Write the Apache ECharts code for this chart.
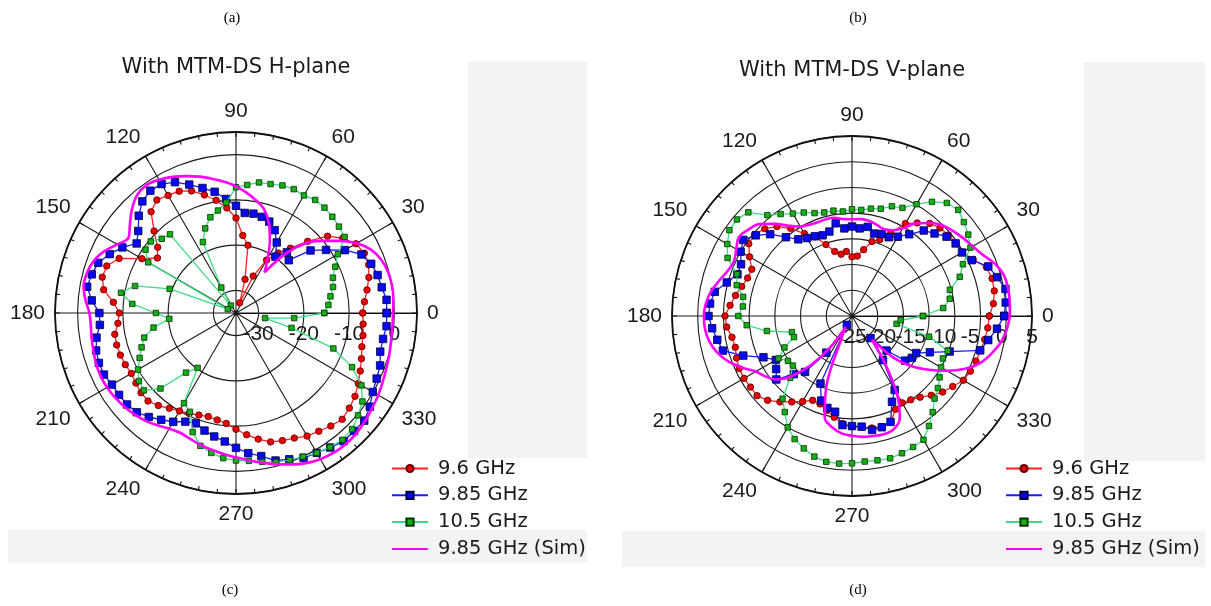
<!DOCTYPE html>
<html><head><meta charset="utf-8">
<script src="https://cdn.jsdelivr.net/npm/echarts@6/dist/echarts.min.js"></script>
<style>html,body{margin:0;padding:0;background:#fff;}#c{width:1211px;height:606px;}</style>
</head><body><div id="c"></div>
<script>
const ANGLES = [0,5,10,15,20,25,30,35,40,45,50,55,60,65,70,75,80,85,90,95,100,105,110,115,120,125,130,135,140,145,150,155,160,165,170,175,180,185,190,195,200,205,210,215,220,225,230,235,240,245,250,255,260,265,270,275,280,285,290,295,300,305,310,315,320,325,330,335,340,345,350,355];
const SERIES_NAMES = ['9.6 GHz','9.85 GHz','10.5 GHz','9.85 GHz (Sim)'];
const PLOT_TITLES = ['With MTM-DS H-plane','With MTM-DS V-plane'];
const PANEL_LABELS = ['(a)','(b)','(c)','(d)'];
const H_RADIAL_LABELS = [-30,-20,-10,0];
const V_RADIAL_LABELS = [-25,-20,-15,-10,-5,0,5];

// H-plane (left)
const H_RED = [-7.0,-6.5,-5.6,-4.6,-3.8,-3.7,-4.4,-6.2,-8.6,-12.6,-16.3,-18.8,-21.5,-26.0,-32.6,-27.3,-19.8,-17.8,-14.0,-11.7,-9.7,-8.0,-6.3,-5.3,-5.0,-4.5,-5.8,-9.4,-12.4,-13.8,-11.0,-6.5,-4.6,-4.4,-5.3,-7.8,-9.2,-8.8,-7.8,-7.7,-7.8,-8.0,-8.3,-8.0,-7.6,-7.5,-8.3,-9.3,-10.0,-10.5,-11.0,-11.3,-11.0,-10.5,-9.3,-8.0,-6.7,-5.5,-5.0,-4.5,-3.6,-3.1,-2.4,-1.8,-2.3,-2.9,-3.8,-4.7,-5.5,-6.2,-6.5,-6.8];
const H_BLUE = [-1.7,-1.6,-2.3,-2.6,-3.2,-4.4,-7.2,-10.7,-13.5,-18.5,-17.5,-19.8,-17.0,-14.8,-13.5,-13.0,-12.7,-12.8,-11.3,-9.7,-7.8,-6.4,-4.8,-3.1,-2.1,-2.0,-2.8,-4.6,-6.8,-8.2,-6.0,-4.2,-2.6,-2.0,-1.6,-3.0,-4.8,-4.8,-3.7,-3.0,-2.75,-2.8,-3.35,-3.45,-3.55,-4.0,-5.0,-6.2,-7.25,-8.5,-9.05,-8.1,-7.3,-6.5,-5.2,-3.9,-2.9,-1.25,-0.6,0.34,0.7,1.3,2.0,1.9,2.0,1.1,-0.1,-0.7,-1.1,-2.0,-2.0,-1.6];
const H_GREEN = [-15.5,-14.5,-13.8,-12.8,-12.2,-10.8,-9.0,-5.7,-5.3,-4.9,-4.6,-4.5,-5.0,-4.8,-5.0,-5.5,-5.7,-6.6,-7.2,-10.5,-12.0,-13.1,-15.1,-17.7,-28.5,-33.0,-12.3,-11.8,-10.4,-10.6,-12.6,-33.0,-19.4,-11.9,-9.2,-12.0,-17.3,-20.2,-16.5,-14.0,-12.8,-11.5,-10.0,-8.8,-8.4,-11.4,-17.8,-20.2,-12.0,-10.9,-7.0,-4.6,-3.6,-2.8,-2.4,-2.2,-1.6,-0.9,-0.4,0.0,0.7,1.2,1.6,1.3,0.2,-0.9,-3.0,-6.7,-12.1,-22.3,-28.5,-22.1];
const H_SIM = [-0.3,-0.1,0.0,-0.2,-0.8,-2.0,-4.2,-7.2,-10.2,-13.2,-17.8,-24.0,-21.0,-17.3,-13.8,-11.2,-9.7,-8.3,-7.0,-5.9,-4.9,-3.8,-2.8,-1.8,-1.0,-0.5,-1.0,-2.5,-4.4,-6.0,-4.7,-2.8,-1.5,-0.9,-0.8,-1.6,-2.6,-2.8,-2.6,-2.4,-2.1,-2.0,-2.1,-2.4,-2.8,-3.3,-3.9,-4.7,-5.5,-5.8,-5.4,-4.8,-4.3,-3.7,-3.1,-2.3,-1.4,-0.4,0.6,1.6,2.3,2.7,2.8,2.6,2.2,1.7,1.3,0.8,0.4,0.1,-0.2,-0.3];

// V-plane (right)
const V_RED = [-3.3,-2.4,-1.9,-1.8,-2.2,-4.0,-5.2,-5.35,-5.5,-5.8,-6.5,-7.9,-9.25,-12.2,-14.2,-15.0,-16.9,-18.3,-18.5,-17.4,-17.8,-17.0,-15.2,-13.0,-11.5,-9.2,-7.3,-6.0,-5.3,-5.5,-7.0,-8.5,-8.4,-7.8,-7.0,-6.2,-5.3,-5.55,-6.3,-6.5,-6.1,-5.8,-5.75,-5.9,-5.9,-6.8,-8.2,-9.6,-10.8,-11.9,-11.8,-11.0,-10.0,-9.0,-8.5,-8.3,-7.9,-7.7,-8.0,-10.0,-10.5,-10.1,-9.4,-8.2,-7.0,-6.1,-5.0,-4.6,-4.35,-4.1,-3.8,-3.5];
const V_BLUE = [-0.4,0.0,0.3,-0.8,-1.8,-4.3,-5.3,-5.4,-6.0,-7.3,-8.3,-10.6,-12.2,-13.1,-13.0,-13.4,-12.4,-12.9,-12.6,-12.9,-11.7,-13.0,-13.3,-12.9,-12.5,-11.8,-10.0,-7.5,-5.6,-4.2,-5.0,-6.2,-6.3,-4.8,-2.9,-2.3,-2.1,-2.7,-3.4,-4.0,-7.5,-11.0,-12.9,-12.0,-10.8,-14.0,-15.8,-21.3,-28.0,-15.5,-12.5,-11.5,-11.1,-8.7,-8.6,-8.4,-7.5,-7.6,-8.1,-11.6,-13.4,-19.5,-24.4,-20.5,-16.5,-15.8,-15.6,-13.3,-9.8,-4.2,-3.1,-1.7];
const V_GREEN = [-16.2,-12.2,-10.7,-10.3,-7.7,-6.2,-3.4,-2.4,-1.6,-0.8,-1.3,-2.9,-4.9,-6.8,-7.3,-8.4,-8.8,-9.3,-9.25,-9.6,-9.2,-9.15,-8.7,-7.8,-7.0,-5.8,-4.4,-1.5,-0.8,-0.9,-2.0,-3.3,-6.2,-6.8,-8.5,-8.7,-7.9,-9.45,-13.2,-17.9,-18.0,-15.5,-13.5,-14.8,-15.0,-13.0,-9.0,-7.2,-5.0,-3.6,-2.6,-1.7,-1.2,-1.2,-1.35,-1.6,-1.5,-1.35,-1.6,-1.9,-2.2,-3.9,-5.6,-7.3,-8.2,-9.2,-10.0,-10.5,-10.2,-14.5,-21.2,-20.5];
const V_SIM = [0.7,0.8,0.8,0.6,-0.4,-1.9,-2.9,-3.6,-4.3,-5.1,-6.4,-8.0,-10.3,-11.6,-12.0,-11.6,-11.2,-11.1,-11.2,-11.1,-10.6,-10.5,-10.6,-10.4,-9.9,-8.6,-6.6,-4.7,-3.8,-3.2,-4.0,-4.7,-4.3,-3.3,-2.2,-1.5,-1.2,-1.3,-1.8,-2.8,-4.3,-6.3,-8.4,-9.5,-10.8,-13.5,-17.5,-22.4,-27.5,-25.0,-15.4,-9.5,-8.0,-7.1,-6.7,-6.4,-6.3,-6.2,-6.5,-8.0,-12.5,-19.0,-24.0,-18.5,-14.8,-11.8,-8.7,-5.7,-3.4,-1.9,-0.6,0.2];

const FONT = '"Liberation Sans", Arial, sans-serif';
const WIDE = '"DejaVu Sans", "Liberation Sans", sans-serif';
const SERIF = '"Liberation Serif", "Times New Roman", serif';
const TXT = '#1a1a1a';
const GRID = '#1a1a1a';

function pts(vals){
  const d = vals.map((v,i)=>[v, ANGLES[i]]);
  d.push([vals[0], 360]);
  return d;
}
const STYLES = [
  {symbol:'circle', symbolSize:6.5, line:'#ff2020', fill:'#e80000', border:'#5a0000', width:1.3},
  {symbol:'rect', symbolSize:7.5, line:'#1a1aff', fill:'#0808f0', border:'#00003a', width:1.3},
  {symbol:'rect', symbolSize:5.5, line:'#3ddc84', fill:'#14b014', border:'#063006', width:1.3},
  {symbol:'none', symbolSize:0, line:'#ff00ff', fill:'#ff00ff', border:'#ff00ff', width:2.6}
];
function makeSeries(polarIndex, arrs){
  return arrs.map((vals,k)=>{
    const s = STYLES[k];
    const o = {
      name: SERIES_NAMES[k], type:'line', coordinateSystem:'polar', polarIndex,
      data: pts(vals), symbol: s.symbol, symbolSize: s.symbolSize,
      lineStyle:{color:s.line, width:s.width},
      itemStyle:{color:s.fill, borderColor:s.border, borderWidth:0.8},
      animation:false, z: 2 + k
    };
    if (k === 3) { o.smooth = 0.35; o.showSymbol = false; }
    return o;
  });
}
function angleAxis(polarIndex){
  return {
    polarIndex, type:'value', min:0, max:360, interval:30, startAngle:0, clockwise:false,
    axisLine:{show:true, lineStyle:{color:'#111', width:1.8}},
    axisTick:{show:true, inside:true, length:5, lineStyle:{color:'#111', width:1.2}},
    minorTick:{show:true, splitNumber:5, length:4, lineStyle:{color:'#111', width:1.1}},
    splitLine:{show:true, lineStyle:{color:GRID, width:1.1}},
    axisLabel:{margin:10, fontSize:21, color:TXT, fontFamily:FONT, formatter:v => v===360 ? '' : String(v)}
  };
}
// right plot radial labels sit crowded toward the centre in the original
const V_SHIFT = {'-25':52,'-20':45,'-15':37,'-10':27,'-5':21,'0':9,'5':0};
const vRich = {};
V_RADIAL_LABELS.forEach((v,i)=>{ vRich['s'+i] = {fontSize:21, color:TXT, fontFamily:FONT, padding:[0, V_SHIFT[String(v)], 0, 0]}; });

function legend(left){
  return {left, top:453.5, orient:'vertical', itemWidth:36, itemHeight:9, itemGap:6.8, selectedMode:false,
    textStyle:{fontSize:19.5, lineHeight:19.5, color:TXT, fontFamily:WIDE, padding:[0,0,0,5]},
    data:[SERIES_NAMES[0], SERIES_NAMES[1], SERIES_NAMES[2], {name:SERIES_NAMES[3], itemStyle:{opacity:0}}]};
}
const radialLabelBase = {margin:-11, verticalAlign:'top', fontSize:21, color:TXT, fontFamily:FONT};

const option = {
  backgroundColor:'#ffffff',
  animation:false,
  title: [
    {text:PLOT_TITLES[0], left:236, top:57, textAlign:'center', padding:0, textStyle:{fontSize:21, fontWeight:'normal', color:TXT, fontFamily:WIDE}},
    {text:PLOT_TITLES[1], left:852, top:60, textAlign:'center', padding:0, textStyle:{fontSize:21, fontWeight:'normal', color:TXT, fontFamily:WIDE}}
  ],
  graphic: [
    {type:'rect', shape:{x:468,y:61,width:119,height:397}, style:{fill:'#f3f3f3'}, z:-10, silent:true},
    {type:'rect', shape:{x:8,y:530,width:579,height:33}, style:{fill:'#f3f3f3'}, z:-10, silent:true},
    {type:'rect', shape:{x:1084,y:62,width:121,height:399}, style:{fill:'#f3f3f3'}, z:-10, silent:true},
    {type:'rect', shape:{x:622,y:531,width:583,height:36}, style:{fill:'#f3f3f3'}, z:-10, silent:true},
    {type:'text', x:232, y:18, style:{text:PANEL_LABELS[0], font:'15px '+SERIF, fill:'#000', textAlign:'center', textVerticalAlign:'middle'}},
    {type:'text', x:858, y:18, style:{text:PANEL_LABELS[1], font:'15px '+SERIF, fill:'#000', textAlign:'center', textVerticalAlign:'middle'}},
    {type:'text', x:230, y:590, style:{text:PANEL_LABELS[2], font:'15px '+SERIF, fill:'#000', textAlign:'center', textVerticalAlign:'middle'}},
    {type:'text', x:858, y:590, style:{text:PANEL_LABELS[3], font:'15px '+SERIF, fill:'#000', textAlign:'center', textVerticalAlign:'middle'}}
  ],
  polar: [
    {center:[236,313], radius:181},
    {center:[852,316], radius:180}
  ],
  angleAxis: [angleAxis(0), angleAxis(1)],
  radiusAxis: [
    {polarIndex:0, type:'value', min:-35, max:5, splitNumber:4,
     axisLine:{show:true, lineStyle:{color:'#111', width:1.1}}, axisTick:{show:false},
     splitLine:{show:true, lineStyle:{color:GRID, width:1.1}},
     axisLabel:Object.assign({}, radialLabelBase, {
       formatter: v => H_RADIAL_LABELS.indexOf(v) >= 0 ? String(v) : ''})},
    {polarIndex:1, type:'value', min:-30, max:5, interval:5,
     axisLine:{show:true, lineStyle:{color:'#111', width:1.1}}, axisTick:{show:false},
     splitLine:{show:true, lineStyle:{color:GRID, width:1.1}},
     axisLabel:Object.assign({}, radialLabelBase, {rich:vRich,
       formatter: v => { const i = V_RADIAL_LABELS.indexOf(v); return i >= 0 ? '{s'+i+'|'+v+'}' : ''; }})}
  ],
  legend: [legend(386), legend(1000)],
  series: [].concat(
    makeSeries(0, [H_RED, H_BLUE, H_GREEN, H_SIM]),
    makeSeries(1, [V_RED, V_BLUE, V_GREEN, V_SIM])
  )
};
const chart = echarts.init(document.getElementById('c'), null, {renderer:'canvas'});
chart.setOption(option);
</script>
</body></html>
